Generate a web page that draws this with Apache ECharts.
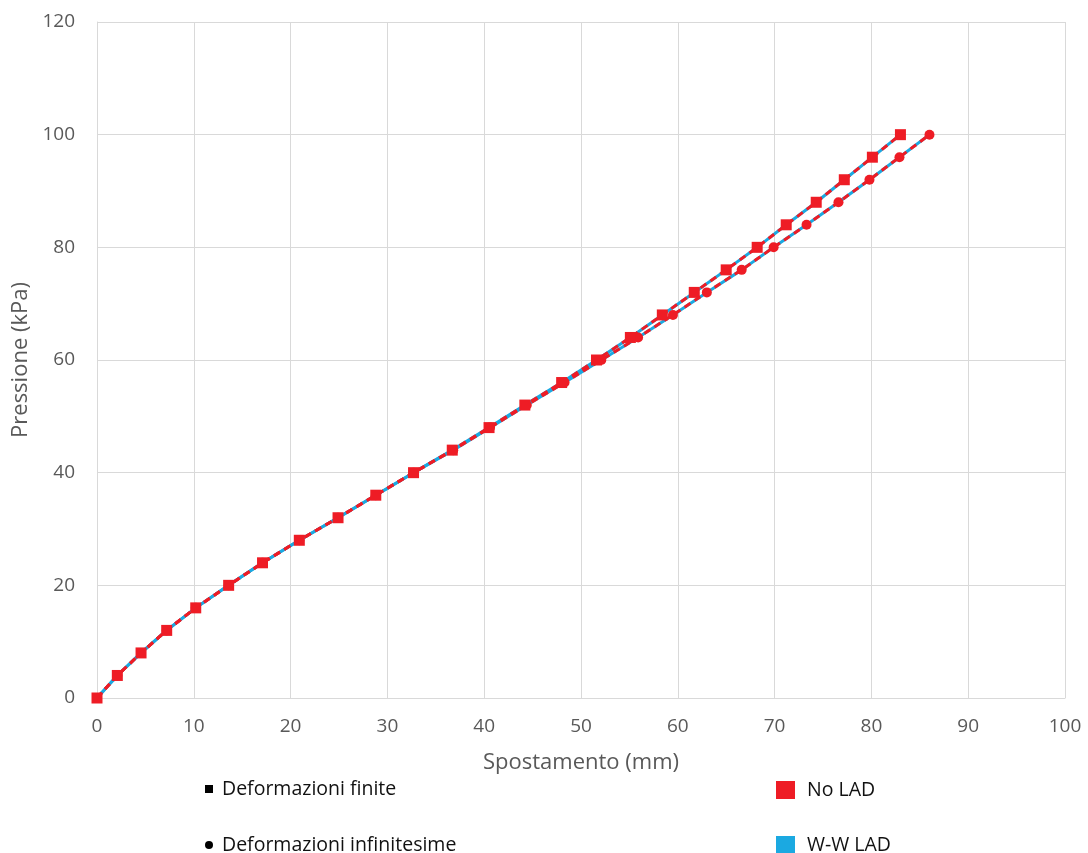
<!DOCTYPE html>
<html>
<head>
<meta charset="utf-8">
<script src="https://cdn.jsdelivr.net/npm/echarts@6/dist/echarts.min.js"></script>
<style>
  html, body { margin: 0; padding: 0; background: #fff; }
  #chart { width: 1088px; height: 853px; }
</style>
</head>
<body>
<div id="chart"></div>
<script>
// Pressure load steps (kPa)
const pressure = [0, 4, 8, 12, 16, 20, 24, 28, 32, 36, 40, 44, 48, 52, 56, 60, 64, 68, 72, 76, 80, 84, 88, 92, 96, 100];
// Displacement (mm) - finite strain analysis
const finiteDisp = [0, 2.1, 4.55, 7.2, 10.2, 13.6, 17.1, 20.9, 24.9, 28.8, 32.7, 36.7, 40.5, 44.2, 48.0, 51.6, 55.1, 58.4, 61.7, 65.0, 68.2, 71.2, 74.3, 77.2, 80.1, 83.0];
// Displacement (mm) - infinitesimal strain analysis
const infDisp = [0, 2.1, 4.55, 7.2, 10.2, 13.6, 17.1, 20.9, 24.9, 28.8, 32.7, 36.8, 40.6, 44.4, 48.3, 52.1, 55.9, 59.5, 63.0, 66.6, 69.9, 73.3, 76.6, 79.8, 82.9, 86.0];

const xTicks = [0, 10, 20, 30, 40, 50, 60, 70, 80, 90, 100];
const yTicks = [0, 20, 40, 60, 80, 100, 120];

const legendStrain = ['Deformazioni finite', 'Deformazioni infinitesime'];
const legendModel = ['No LAD', 'W-W LAD'];

const RED = '#ee1c25';
const BLUE = '#1ba9e1';
const FONT = '"Open Sans", "Noto Sans", sans-serif';

const pairs = (xs) => xs.map((x, i) => [x, pressure[i]]);

const chart = echarts.init(document.getElementById('chart'));

const baseLine = (data) => ({
  type: 'line', data, showSymbol: false, z: 2,
  lineStyle: { color: BLUE, width: 3, type: 'solid' },
  itemStyle: { color: BLUE }, animation: false, silent: true
});
const dashedLine = (data, symbol) => ({
  type: 'line', data, symbol, symbolSize: symbol === 'rect' ? 11 : 10, z: 3,
  lineStyle: { color: RED, width: 3, type: [7, 5] },
  itemStyle: { color: RED }, animation: false, silent: true
});

chart.setOption({
  backgroundColor: '#fff',
  grid: { left: 97, right: 23, top: 22, bottom: 155 },
  xAxis: {
    type: 'value', min: xTicks[0], max: xTicks[xTicks.length - 1], interval: 10,
    name: 'Spostamento (mm)', nameLocation: 'middle', nameGap: 54,
    nameTextStyle: { fontFamily: FONT, fontSize: 22, color: '#595959' },
    axisLine: { show: true, lineStyle: { color: '#d9d9d9', width: 1 } },
    axisTick: { show: false },
    axisLabel: { fontFamily: FONT, fontSize: 19, color: '#595959', margin: 19 },
    splitLine: { show: true, lineStyle: { color: '#d9d9d9', width: 1 } }
  },
  yAxis: {
    type: 'value', min: yTicks[0], max: yTicks[yTicks.length - 1], interval: 20,
    name: 'Pressione (kPa)', nameLocation: 'middle', nameGap: 63,
    nameTextStyle: { fontFamily: FONT, fontSize: 22, color: '#595959' },
    axisLine: { show: true, lineStyle: { color: '#d9d9d9', width: 1 } },
    axisTick: { show: false },
    axisLabel: { fontFamily: FONT, fontSize: 19, color: '#595959', margin: 22 },
    splitLine: { show: true, lineStyle: { color: '#d9d9d9', width: 1 } }
  },
  series: [
    baseLine(pairs(finiteDisp)),
    baseLine(pairs(infDisp)),
    dashedLine(pairs(infDisp), 'circle'),
    dashedLine(pairs(finiteDisp), 'rect')
  ],
  graphic: [
    { type: 'rect', shape: { x: 205, y: 785, width: 8, height: 8 }, style: { fill: '#000' } },
    { type: 'text', x: 222, y: 789, style: { text: legendStrain[0], font: '19.5px ' + FONT, fill: '#111', verticalAlign: 'middle' } },
    { type: 'circle', shape: { cx: 209, cy: 845, r: 4 }, style: { fill: '#000' } },
    { type: 'text', x: 222, y: 845, style: { text: legendStrain[1], font: '19.5px ' + FONT, fill: '#111', verticalAlign: 'middle' } },
    { type: 'rect', shape: { x: 776, y: 781, width: 19, height: 18 }, style: { fill: RED } },
    { type: 'text', x: 807, y: 790, style: { text: legendModel[0], font: '19.5px ' + FONT, fill: '#111', verticalAlign: 'middle' } },
    { type: 'rect', shape: { x: 776, y: 836, width: 19, height: 18 }, style: { fill: BLUE } },
    { type: 'text', x: 807, y: 845, style: { text: legendModel[1], font: '19.5px ' + FONT, fill: '#111', verticalAlign: 'middle' } }
  ]
});
</script>
</body>
</html>
